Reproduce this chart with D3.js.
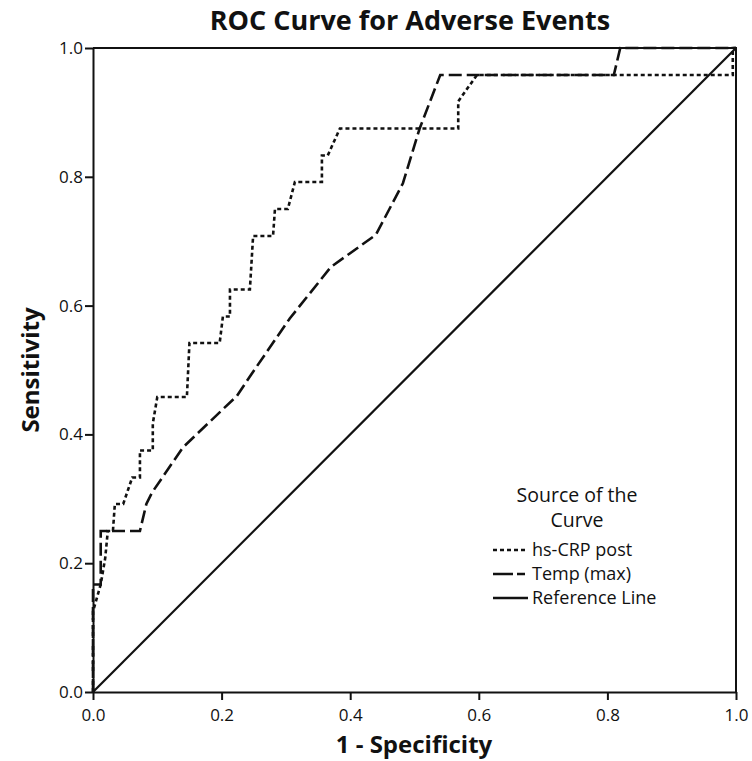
<!DOCTYPE html>
<html lang="en">
<head>
    <meta charset="UTF-8">
    <title>ROC Curve for Adverse Events</title>
    <style>
        body { margin: 0; background: #fff; }
        svg { display: block; }
        text { fill: #111; font-family: "Open Sans", "DejaVu Sans", sans-serif; }
        .axis path, .axis line { stroke: #111; stroke-width: 2; }
        .axis text { font-size: 17px; }
    </style>
</head>
<body>
    <svg id="roc" width="752" height="761"></svg>
    <script src="https://d3js.org/d3.v7.min.js"></script>
    <script>
        // hs-CRP post: [1 - specificity, sensitivity]
        const crpPoints = [
            [0, 0], [0, 0.125], [0.012, 0.167], [0.019, 0.208], [0.023, 0.25], [0.031, 0.25],
            [0.034, 0.292], [0.047, 0.292], [0.061, 0.333], [0.073, 0.333], [0.073, 0.375],
            [0.093, 0.375], [0.093, 0.417], [0.1, 0.458], [0.146, 0.458], [0.15, 0.542],
            [0.197, 0.542], [0.202, 0.583], [0.213, 0.583], [0.213, 0.625], [0.244, 0.625],
            [0.249, 0.708], [0.28, 0.708], [0.283, 0.75], [0.303, 0.75], [0.314, 0.792],
            [0.356, 0.792], [0.356, 0.833], [0.365, 0.833], [0.384, 0.875], [0.568, 0.875],
            [0.568, 0.917], [0.597, 0.958], [0.995, 0.958], [0.995, 1.0], [1, 1]
        ];

        // Temp (max)
        const tempPoints = [
            [0, 0], [0, 0.167], [0.012, 0.167], [0.012, 0.25], [0.073, 0.25], [0.083, 0.292],
            [0.092, 0.31], [0.14, 0.38], [0.224, 0.46], [0.244, 0.49], [0.306, 0.58],
            [0.37, 0.66], [0.44, 0.71], [0.482, 0.79], [0.508, 0.875], [0.54, 0.958],
            [0.81, 0.958], [0.82, 1.0], [1, 1]
        ];

        const refPoints = [[0, 0], [1, 1]];

        const tickValues = [0, 0.2, 0.4, 0.6, 0.8, 1.0];

        const legendItems = [
            { label: 'hs-CRP post', dash: '4,3' },
            { label: 'Temp (max)', dash: '20,4,8' },
            { label: 'Reference Line', dash: null }
        ];

        const svg = d3.select('#roc');

        const x = d3.scaleLinear().domain([0, 1]).range([93, 736]);
        const y = d3.scaleLinear().domain([0, 1]).range([692, 48]);

        // frame (top and right edges)
        svg.append('path')
            .attr('d', `M${x(0)},${y(1)}H${x(1)}V${y(0)}`)
            .attr('fill', 'none')
            .attr('stroke', '#111')
            .attr('stroke-width', 2);

        svg.append('g')
            .attr('class', 'axis')
            .attr('transform', `translate(0,${y(0)})`)
            .call(d3.axisBottom(x).tickValues(tickValues).tickFormat(d3.format('.1f')).tickSize(8).tickSizeOuter(0))
            .call(g => g.selectAll('text').attr('dy', '1.05em'));

        svg.append('g')
            .attr('class', 'axis')
            .attr('transform', `translate(${x(0)},0)`)
            .call(d3.axisLeft(y).tickValues(tickValues).tickFormat(d3.format('.1f')).tickSize(8).tickSizeOuter(0))
            .call(g => g.selectAll('text').attr('x', -10));

        svg.selectAll('.axis text').style('fill', '#111');

        const line = d3.line()
            .x(d => x(d[0]))
            .y(d => y(d[1]));

        svg.append('path')
            .datum(refPoints)
            .attr('d', line)
            .attr('fill', 'none')
            .attr('stroke', '#111')
            .attr('stroke-width', 2.2);

        svg.append('path')
            .datum(tempPoints)
            .attr('d', line)
            .attr('fill', 'none')
            .attr('stroke', '#111')
            .attr('stroke-width', 2.6)
            .attr('stroke-dasharray', '13,5');

        svg.append('path')
            .datum(crpPoints)
            .attr('d', line)
            .attr('fill', 'none')
            .attr('stroke', '#111')
            .attr('stroke-width', 2.6)
            .attr('stroke-dasharray', '4,3');

        // titles
        svg.append('text')
            .attr('x', 410)
            .attr('y', 30)
            .attr('text-anchor', 'middle')
            .style('font-size', '27px')
            .style('font-weight', 'bold')
            .text('ROC Curve for Adverse Events');

        svg.append('text')
            .attr('x', 414)
            .attr('y', 753)
            .attr('text-anchor', 'middle')
            .style('font-size', '24px')
            .style('font-weight', 'bold')
            .text('1 - Specificity');

        svg.append('text')
            .attr('transform', 'translate(39,370) rotate(-90)')
            .attr('text-anchor', 'middle')
            .style('font-size', '24px')
            .style('font-weight', 'bold')
            .text('Sensitivity');

        // legend
        const legend = svg.append('g').attr('transform', 'translate(577,0)');

        legend.append('text')
            .attr('y', 502)
            .attr('text-anchor', 'middle')
            .style('font-size', '19.5px')
            .text('Source of the');

        legend.append('text')
            .attr('y', 527)
            .attr('text-anchor', 'middle')
            .style('font-size', '19.5px')
            .text('Curve');

        const item = legend.selectAll('.item')
            .data(legendItems)
            .join('g')
            .attr('class', 'item')
            .attr('transform', (d, i) => `translate(0,${550 + i * 24})`);

        item.append('line')
            .attr('x1', -84)
            .attr('x2', -49)
            .attr('stroke', '#111')
            .attr('stroke-width', 2.4)
            .attr('stroke-dasharray', d => d.dash);

        item.append('text')
            .attr('x', -45)
            .attr('dy', '0.35em')
            .style('font-size', '18px')
            .text(d => d.label);
    </script>
</body>
</html>
